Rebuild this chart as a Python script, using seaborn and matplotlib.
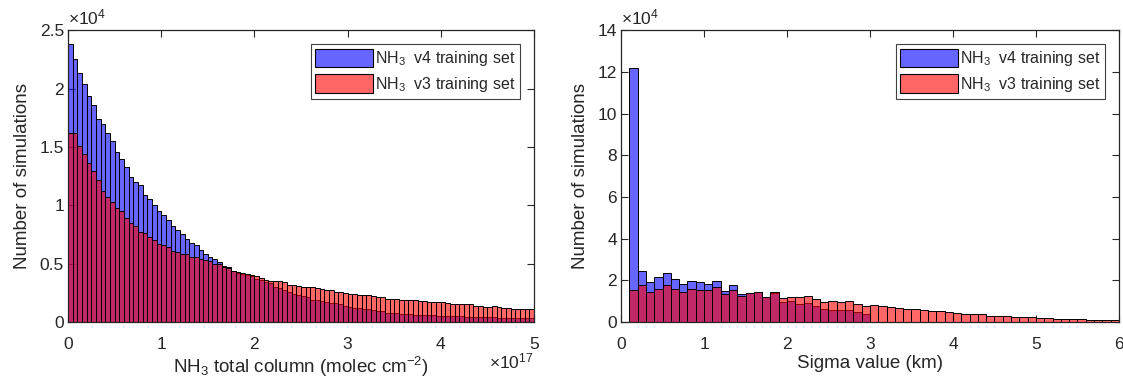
import numpy as np
import pandas as pd
import matplotlib
matplotlib.use("Agg")
import matplotlib.pyplot as plt
from matplotlib.ticker import FuncFormatter
import seaborn as sns

# ---------------- data (counts in units of 1e4) ----------------
# Left panel: NH3 total column, 100 bins of 5e15 from 0 to 5e17
col_v4_1e4 = [2.38, 2.25, 2.13, 2.04, 1.94, 1.86, 1.74, 1.70, 1.62, 1.55,
              1.46, 1.40, 1.33, 1.24, 1.20, 1.17, 1.09, 1.05, 1.00, 0.95,
              0.92, 0.87, 0.82, 0.79, 0.75, 0.71, 0.68, 0.66, 0.62, 0.58,
              0.56, 0.54, 0.51, 0.48, 0.47, 0.44, 0.42, 0.41, 0.40, 0.39,
              0.37, 0.36, 0.34, 0.33, 0.30, 0.29, 0.27, 0.26, 0.24, 0.23,
              0.22, 0.21, 0.19, 0.19, 0.18, 0.17, 0.16, 0.16, 0.15, 0.14,
              0.13, 0.12, 0.12, 0.11, 0.11, 0.10, 0.09, 0.09, 0.08, 0.08,
              0.08, 0.072, 0.068, 0.066, 0.064, 0.062, 0.060, 0.058, 0.056, 0.055,
              0.053, 0.052, 0.050, 0.049, 0.047, 0.046, 0.045, 0.044, 0.042, 0.041,
              0.040, 0.039, 0.038, 0.036, 0.035, 0.034, 0.033, 0.032, 0.031, 0.030]
col_v3_1e4 = [1.62, 1.62, 1.51, 1.44, 1.36, 1.29, 1.22, 1.12, 1.07, 1.03,
              0.98, 0.95, 0.89, 0.85, 0.82, 0.77, 0.76, 0.73, 0.70, 0.67,
              0.66, 0.64, 0.61, 0.60, 0.58, 0.58, 0.56, 0.56, 0.54, 0.53,
              0.52, 0.50, 0.50, 0.47, 0.46, 0.44, 0.43, 0.42, 0.41, 0.40,
              0.39, 0.38, 0.36, 0.35, 0.35, 0.35, 0.34, 0.32, 0.32, 0.31,
              0.30, 0.30, 0.30, 0.29, 0.28, 0.27, 0.27, 0.26, 0.26, 0.25,
              0.24, 0.24, 0.23, 0.23, 0.23, 0.22, 0.21, 0.21, 0.20, 0.20,
              0.20, 0.19, 0.19, 0.19, 0.19, 0.18, 0.18, 0.17, 0.17, 0.17,
              0.17, 0.16, 0.15, 0.15, 0.15, 0.15, 0.15, 0.14, 0.14, 0.13,
              0.13, 0.14, 0.13, 0.12, 0.12, 0.115, 0.115, 0.115, 0.11, 0.11]

# Right panel: sigma value, bins of 0.1 km starting at 0.1 km
sig_v4_1e4 = [12.2, 2.45, 1.92, 2.16, 2.35, 2.08, 1.84, 1.97, 1.92, 1.84,
              1.97, 1.47, 1.76, 1.36, 1.41, 1.45, 1.20, 1.39, 0.96, 0.99,
              0.88, 0.91, 0.75, 0.61, 0.58, 0.57, 0.56, 0.47, 0.39]
sig_v3_1e4 = [1.52, 1.76, 1.44, 1.60, 1.76, 1.57, 1.42, 1.57, 1.52, 1.52,
              1.68, 1.33, 1.55, 1.25, 1.39, 1.44, 1.18, 1.42, 1.15, 1.22,
              1.18, 1.26, 1.12, 0.94, 0.99, 0.96, 1.02, 0.86, 0.76, 0.82,
              0.78, 0.70, 0.69, 0.62, 0.61, 0.56, 0.54, 0.51, 0.46, 0.45,
              0.40, 0.37, 0.37, 0.30, 0.30, 0.27, 0.26, 0.22, 0.22, 0.19,
              0.18, 0.16, 0.14, 0.14, 0.13, 0.11, 0.11, 0.10, 0.10]

labels = [r"NH$_3$  v4 training set", r"NH$_3$  v3 training set"]
col_xticks = [0, 1, 2, 3, 4, 5]
col_yticks = [0, 0.5, 1, 1.5, 2, 2.5]
sig_xticks = [0, 1, 2, 3, 4, 5, 6]
sig_yticks = [0, 2, 4, 6, 8, 10, 12, 14]

# ---------------- style ----------------
sns.set_theme(style="white")
plt.rcParams["font.family"] = ["Liberation Sans", "DejaVu Sans"]
plt.rcParams["mathtext.fontset"] = "custom"
plt.rcParams["mathtext.rm"] = "Liberation Sans"
plt.rcParams["mathtext.it"] = "Liberation Sans:italic"
plt.rcParams["mathtext.bf"] = "Liberation Sans:bold"

AXC = "#262626"
BLUE = (0.0, 0.0, 1.0)
RED = (1.0, 0.0, 0.0)
ALPHA = 0.6

fig = plt.figure(figsize=(11.23, 3.87), dpi=100)
ax1 = fig.add_axes([0.0606, 0.168, 0.4149, 0.754])
ax2 = fig.add_axes([0.553, 0.168, 0.4434, 0.754])


def hist(ax, edges, vals, color, label):
    vals = np.asarray(vals, dtype=float) * 1e4
    nb = len(vals)
    e = [float(v) for v in edges[: nb + 1]]
    centers = [0.5 * (e[i] + e[i + 1]) for i in range(nb)]
    df = pd.DataFrame({"x": centers, "w": vals})
    sns.histplot(data=df, x="x", weights="w", bins=e, ax=ax,
                 color=color, alpha=ALPHA, edgecolor="black",
                 linewidth=0.7, label=label, stat="count")


col_edges = np.linspace(0, 5e17, len(col_v3_1e4) + 1)
sig_edges = np.round(np.linspace(0.1, 6.0, len(sig_v3_1e4) + 1), 6)

hist(ax1, col_edges, col_v4_1e4, BLUE, labels[0])
hist(ax1, col_edges, col_v3_1e4, RED, labels[1])
hist(ax2, sig_edges, sig_v4_1e4, BLUE, labels[0])
hist(ax2, sig_edges, sig_v3_1e4, RED, labels[1])

TICKFS = 12.5
LABFS = 13.5


def style(ax, xticks, xscale, yticks, xmax, ymax, xlabel, xoff=None):
    ax.set_xlim(0, xmax)
    ax.set_ylim(0, ymax)
    ax.set_xticks([t * xscale for t in xticks])
    ax.set_yticks([t * 1e4 for t in yticks])
    ax.xaxis.set_major_formatter(FuncFormatter(lambda v, p: f"{v / xscale:g}"))
    ax.yaxis.set_major_formatter(FuncFormatter(lambda v, p: f"{v / 1e4:g}"))
    ax.tick_params(direction="in", length=5, width=0.8, top=True, right=True,
                   bottom=True, left=True, colors=AXC, labelsize=TICKFS)
    ax.tick_params(axis="x", pad=11)
    ax.tick_params(axis="y", pad=3)
    for s in ax.spines.values():
        s.set_color(AXC)
        s.set_linewidth(0.9)
    ax.set_xlabel(xlabel, fontsize=LABFS, color=AXC, labelpad=2)
    ax.set_ylabel("Number of simulations", fontsize=LABFS, color=AXC,
                  labelpad=6)
    ax.text(0.0, 1.008, r"$\times$10$^{4}$", transform=ax.transAxes,
            ha="left", va="bottom", fontsize=TICKFS, color=AXC)
    if xoff:
        ax.text(1.0, -0.158, xoff, transform=ax.transAxes, ha="right",
                va="baseline", fontsize=TICKFS, color=AXC)
    ax.grid(False)
    leg = ax.legend(loc="upper right", fontsize=11.5, frameon=True,
                    fancybox=False, edgecolor="#404040", framealpha=1,
                    handlelength=3.6, handleheight=1.4, handletextpad=0.15,
                    borderpad=0.3, labelspacing=0.4, borderaxespad=0.85)
    leg.get_frame().set_linewidth(0.8)
    for h in leg.legend_handles:
        h.set_edgecolor("black")
        h.set_linewidth(0.8)


style(ax1, col_xticks, 1e17, col_yticks, 5e17, 2.5e4,
      r"NH$_3$ total column (molec cm$^{-2}$)", xoff=r"$\times$10$^{17}$")
style(ax2, sig_xticks, 1.0, sig_yticks, 6, 14e4, "Sigma value (km)")

fig.savefig("out.png", dpi=100)
